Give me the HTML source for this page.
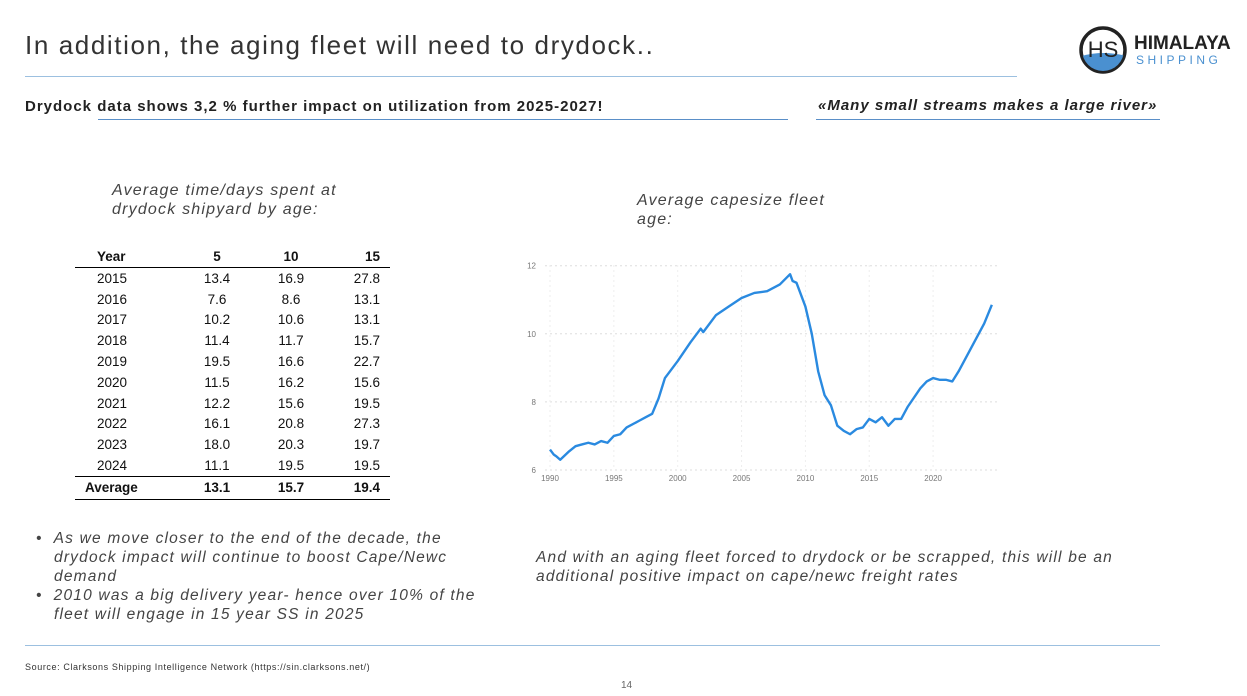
<!DOCTYPE html>
<html><head><meta charset="utf-8"><style>
body{margin:0;width:1247px;height:696px;background:#fff;position:relative;overflow:hidden;font-family:"Liberation Sans",sans-serif;color:#333}
.a{position:absolute;white-space:nowrap}
.it{font-style:italic;color:#444;letter-spacing:1.2px}
table{position:absolute;left:75px;top:246px;border-collapse:collapse;font-size:13.5px;color:#111;width:315px}
td{height:20.8px;padding:0;text-align:center}
td:first-child{text-align:left;padding-left:22px;width:83px}
td.c{width:74px}
td:last-child{text-align:right;padding-right:10px;width:52px}
tr.h td{font-weight:bold;border-bottom:1.5px solid #000;height:21px}
tr.av td{font-weight:bold;border-top:1.5px solid #000;border-bottom:1.5px solid #000;height:22px}
</style></head><body>
<div class="a" style="left:25px;top:30px;font-size:26px;color:#333;letter-spacing:1.6px">In addition, the aging fleet will need to drydock..</div>
<div class="a" style="left:25px;top:76px;width:992px;height:1px;background:#9cc0e0"></div>
<div class="a" style="left:1078px;top:25px;width:50px;height:50px">
<svg width="52" height="52" viewBox="0 0 52 52"><defs><clipPath id="cp"><circle cx="25" cy="25" r="21"/></clipPath></defs><circle cx="25" cy="25" r="22" fill="#fff" stroke="#222" stroke-width="3.5"/><path d="M0 32 Q25 24 52 32 L52 52 L0 52Z" fill="#4a90d0" clip-path="url(#cp)"/><text x="25" y="32" text-anchor="middle" font-family="Liberation Sans" font-size="22" fill="#222">HS</text></svg></div>
<div class="a" style="left:1134px;top:33px;font-size:19px;font-weight:bold;color:#222">HIMALAYA</div>
<div class="a" style="left:1136px;top:53px;font-size:12px;color:#4a90d0;letter-spacing:3.5px">SHIPPING</div>
<div class="a" style="left:25px;top:98px;font-size:15px;font-weight:bold;color:#222;letter-spacing:1px">Drydock data shows 3,2 % further impact on utilization from 2025-2027!</div>
<div class="a" style="left:98px;top:119px;width:690px;height:1px;background:#5a8fc8"></div>
<div class="a" style="left:818px;top:97px;font-size:15px;font-weight:bold;font-style:italic;color:#222;letter-spacing:1px">«Many small streams makes a large river»</div>
<div class="a" style="left:816px;top:119px;width:344px;height:1px;background:#5a8fc8"></div>
<div class="a it" style="left:112px;top:181px;font-size:16px;line-height:19px">Average time/days spent at<br>drydock shipyard by age:</div>
<table>
<tr class="h"><td>Year</td><td class="c">5</td><td class="c">10</td><td>15</td></tr>
<tr><td>2015</td><td>13.4</td><td>16.9</td><td>27.8</td></tr>
<tr><td>2016</td><td>7.6</td><td>8.6</td><td>13.1</td></tr>
<tr><td>2017</td><td>10.2</td><td>10.6</td><td>13.1</td></tr>
<tr><td>2018</td><td>11.4</td><td>11.7</td><td>15.7</td></tr>
<tr><td>2019</td><td>19.5</td><td>16.6</td><td>22.7</td></tr>
<tr><td>2020</td><td>11.5</td><td>16.2</td><td>15.6</td></tr>
<tr><td>2021</td><td>12.2</td><td>15.6</td><td>19.5</td></tr>
<tr><td>2022</td><td>16.1</td><td>20.8</td><td>27.3</td></tr>
<tr><td>2023</td><td>18.0</td><td>20.3</td><td>19.7</td></tr>
<tr><td>2024</td><td>11.1</td><td>19.5</td><td>19.5</td></tr>
<tr class="av"><td style="padding-left:10px;width:95px">Average</td><td>13.1</td><td>15.7</td><td>19.4</td></tr>
</table>
<div class="a it" style="left:637px;top:191px;font-size:16px;line-height:19px">Average capesize fleet<br>age:</div>
<svg class="a" id="chart" style="left:0;top:0" width="1247" height="696"></svg>
<div class="a it" style="left:36px;top:529px;font-size:15.5px;line-height:19px">
<div>•&nbsp;&nbsp;As we move closer to the end of the decade, the</div>
<div style="padding-left:18px">drydock impact will continue to boost Cape/Newc</div>
<div style="padding-left:18px">demand</div>
<div>•&nbsp;&nbsp;2010 was a big delivery year- hence over 10% of the</div>
<div style="padding-left:18px">fleet will engage in 15 year SS in 2025</div></div>
<div class="a it" style="left:536px;top:548px;font-size:15.5px;line-height:19px">And with an aging fleet forced to drydock or be scrapped, this will be an<br>additional positive impact on cape/newc freight rates</div>
<div class="a" style="left:25px;top:645px;width:1135px;height:1px;background:#9cc0e0"></div>
<div class="a" style="left:25px;top:662px;font-size:9px;color:#333;letter-spacing:0.6px">Source: Clarksons Shipping Intelligence Network (https://sin.clarksons.net/)</div>
<div class="a" style="left:621px;top:680px;font-size:10px;color:#666">14</div>
<script>
const years=[1990,1990.3,1990.5,1990.8,1991.5,1992,1992.5,1993,1993.5,1994,1994.5,1995,1995.5,1996,1997,1997.5,1998,1998.5,1999,2000,2001,2001.8,2002,2003,2004,2005,2006,2007,2008,2008.8,2009,2009.3,2010,2010.5,2011,2011.5,2012,2012.5,2013,2013.5,2014,2014.5,2015,2015.5,2016,2016.5,2017,2017.5,2018,2019,2019.5,2020,2020.5,2021,2021.5,2022,2023,2024,2024.6];
const ages=[6.6,6.45,6.4,6.3,6.55,6.7,6.75,6.8,6.75,6.85,6.8,7.0,7.05,7.25,7.45,7.55,7.65,8.1,8.7,9.2,9.75,10.15,10.05,10.55,10.8,11.05,11.2,11.25,11.45,11.75,11.55,11.5,10.8,10.0,8.9,8.2,7.9,7.3,7.15,7.05,7.2,7.25,7.5,7.4,7.55,7.3,7.5,7.5,7.85,8.4,8.6,8.7,8.65,8.65,8.6,8.9,9.6,10.3,10.85];
const xTicks=[1990,1995,2000,2005,2010,2015,2020];
const yTicks=[6,8,10,12];
const NS='http://www.w3.org/2000/svg';
const svg=document.getElementById('chart');
const X=y=>550+(y-1990)*12.77;
const Y=v=>470-(v-6)*34.05;
function mk(t,a){const e=document.createElementNS(NS,t);for(const k in a)e.setAttribute(k,a[k]);svg.appendChild(e);return e;}
yTicks.forEach(v=>{
 const g=mk('line',{x1:545,x2:1000,y1:Y(v),y2:Y(v),stroke:'#ddd','stroke-dasharray':'2,3'});
 
 
 const t=mk('text',{x:536,y:Y(v)+3,'font-size':8,fill:'#777','text-anchor':'end','font-family':'Liberation Sans'});
 t.textContent=v;
 
 
});
xTicks.forEach(v=>{
 const g=mk('line',{x1:X(v),x2:X(v),y1:265,y2:470,stroke:'#eee','stroke-dasharray':'2,3'});
 
 
 const t=mk('text',{x:X(v),y:481,'font-size':8,fill:'#777','text-anchor':'middle','font-family':'Liberation Sans'});
 t.textContent=v;
 
 
});
const p=mk('polyline',{points:years.map((y,i)=>X(y)+','+Y(ages[i])).join(' '),fill:'none',stroke:'#2a8ae0','stroke-width':2.4,'stroke-linejoin':'round'});


</script>
</body></html>
